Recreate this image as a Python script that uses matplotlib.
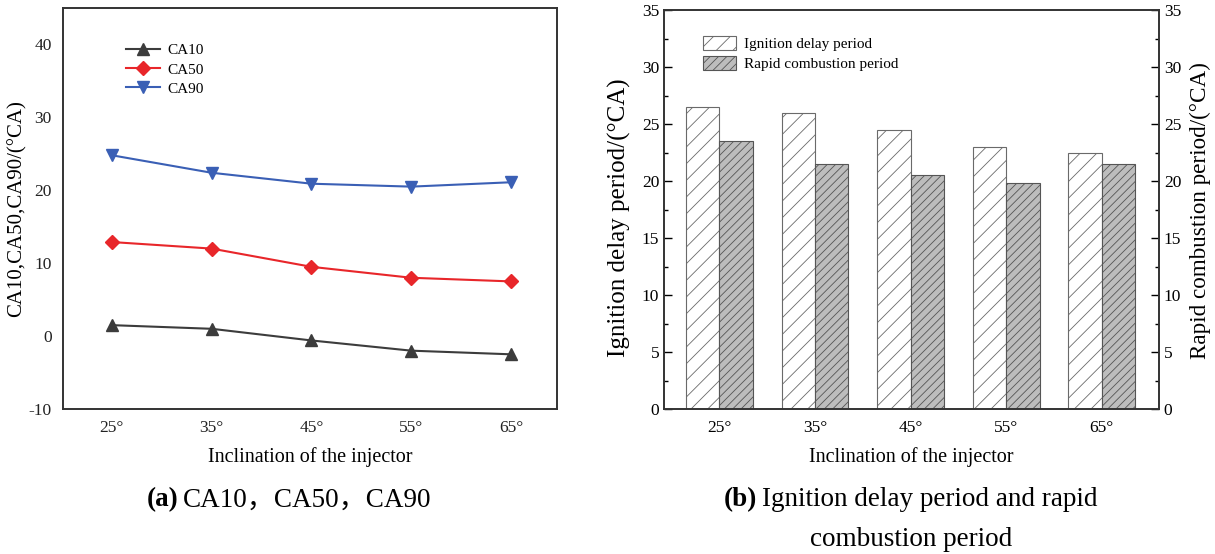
import matplotlib.pyplot as plt
import numpy as np

plt.rcParams['font.family'] = ['Liberation Serif', 'Noto Sans CJK SC']
plt.rcParams['hatch.linewidth'] = 0.6
plt.rcParams['axes.unicode_minus'] = False

# data
angles = ['25°', '35°', '45°', '55°', '65°']
ca10 = [1.5, 1.0, -0.6, -2.0, -2.5]
ca50 = [12.9, 12.0, 9.5, 8.0, 7.5]
ca90 = [24.8, 22.4, 20.9, 20.5, 21.1]
ignition = [26.5, 26.0, 24.5, 23.0, 22.5]
rapid = [23.5, 21.5, 20.5, 19.8, 21.5]

W, H = 1215, 554
fig = plt.figure(figsize=(W / 100, H / 100), dpi=100)

def px_axes(x0, y0, x1, y1):
    return fig.add_axes([x0 / W, (H - y1) / H, (x1 - x0) / W, (y1 - y0) / H])

spine_col = '#333333'

# (a) line chart
ax1 = px_axes(63, 8, 557, 409)
x = np.arange(len(angles))
ax1.plot(x, ca10, color='#3c3c3c', marker='^', markersize=8, lw=1.5, label='CA10')
ax1.plot(x, ca50, color='#e8262a', marker='D', markersize=7, lw=1.5, label='CA50')
ax1.plot(x, ca90, color='#3a5fb5', marker='v', markersize=8, lw=1.5, label='CA90')
ax1.set_xlim(-0.49, 4.46)
ax1.set_ylim(-10, 45)
ax1.set_yticks([-10, 0, 10, 20, 30, 40])
ax1.set_xticks(x)
ax1.set_xticklabels(angles)
ax1.tick_params(length=0, labelsize=12.5, pad=8, colors='#222222')
for s in ax1.spines.values():
    s.set_linewidth(1.4)
    s.set_color(spine_col)
ax1.set_xlabel('Inclination of the injector', fontsize=14.5, labelpad=8)
ax1.set_ylabel('CA10,CA50,CA90/(°CA)', fontsize=15)
ax1.yaxis.set_label_coords(-0.093, 0.5)
ax1.yaxis.label.set_va('center')
ax1.legend(loc='upper left', bbox_to_anchor=(0.1, 0.945), frameon=False,
           fontsize=11, handlelength=2.2, labelspacing=0.35, handletextpad=0.5)

# (b) bar chart
ax2 = px_axes(664, 10, 1159, 409)
bw = 0.35
ax2.bar(x - bw / 2, ignition, bw, facecolor='white', edgecolor='#6a6a6a',
        hatch='//', lw=0.8, label='Ignition delay period')
ax2.bar(x + bw / 2, rapid, bw, facecolor='#bdbdbd', edgecolor='#555555',
        hatch='////', lw=0.8, label='Rapid combustion period')
ax2.set_xlim(-0.58, 4.6)
ax2.set_ylim(0, 35)
ax2.set_xticks(x)
ax2.set_xticklabels(angles)
ax2.set_yticks(np.arange(0, 36, 5))
ax2.set_yticks(np.arange(2.5, 35, 5), minor=True)
ax2.tick_params(axis='x', length=0, labelsize=12.5, pad=8)
ax2.tick_params(axis='y', which='major', direction='in', length=6, width=1,
                labelsize=12.5, left=True, right=True, labelright=True)
ax2.tick_params(axis='y', which='minor', direction='in', length=3, width=1,
                left=True, right=True)
for s in ax2.spines.values():
    s.set_linewidth(1.4)
    s.set_color(spine_col)
ax2.set_xlabel('Inclination of the injector', fontsize=14.5, labelpad=8)
ax2.set_ylabel('Ignition delay period/(°CA)', fontsize=18)
ax2.yaxis.set_label_coords(-0.089, 0.48)
ax2.yaxis.label.set_va('center')
fig.text(1200 / W, 1 - 211 / H, 'Rapid combustion period/(°CA)', fontsize=16.7,
         rotation=90, ha='center', va='center')
ax2.legend(loc='upper left', bbox_to_anchor=(0.05, 0.97), frameon=False,
           fontsize=11, handlelength=2.2, handleheight=1.1, labelspacing=0.3,
           handletextpad=0.5)

# captions
cy1 = 1 - 500 / H
cy2 = 1 - 540 / H
fig.text(147 / W, cy1, '(a)', fontsize=19.5, fontweight='bold', va='center')
fig.text(183 / W, cy1, 'CA10，CA50，CA90', fontsize=19.5, va='center')
fig.text(724 / W, cy1, '(b)', fontsize=19.5, fontweight='bold', va='center')
fig.text(762 / W, cy1, 'Ignition delay period and rapid', fontsize=19.5, va='center')
fig.text(911 / W, cy2, 'combustion period', fontsize=19.5, ha='center', va='center')

fig.savefig('out.png', dpi=100)
